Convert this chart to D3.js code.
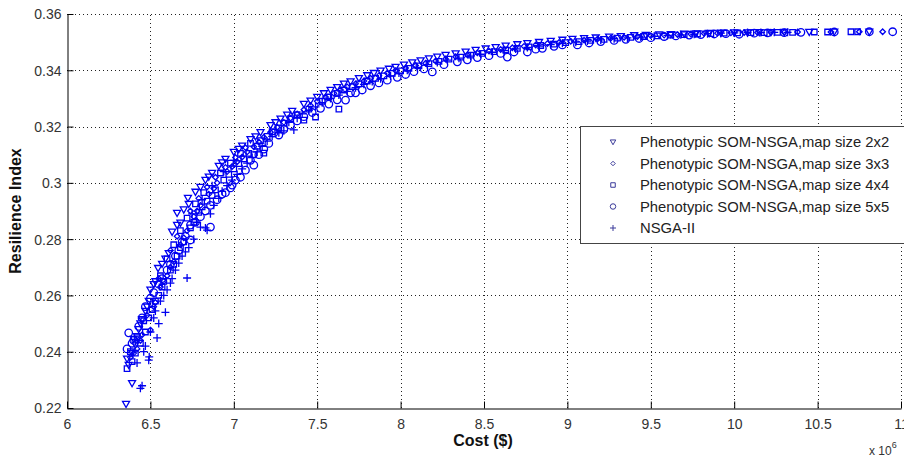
<!DOCTYPE html>
<html>
<head>
<meta charset="utf-8">
<script src="https://cdn.jsdelivr.net/npm/d3@7.9.0/dist/d3.min.js"></script>
<style>
  body { margin: 0; background: #fff; }
  svg { display: block; font-family: Arial, "Liberation Sans", sans-serif; }
</style>
</head>
<body>
<div id="chart"></div>
<script>
// cost in millions of $, resilience index
const som2x2 = [[6.354,0.2214],[6.39,0.2288],[6.37,0.2353],[6.36,0.2375],[6.39,0.2395],[6.41,0.2425],[6.40,0.2445],[6.43,0.2480],[6.45,0.2515],[6.47,0.2545],[6.49,0.2580],[6.50,0.2620],[6.52,0.2640],[6.546,0.2697],[6.57,0.2712],[6.61,0.2750],[6.63,0.2826],[6.66,0.2850],[6.68,0.2858],[6.66,0.2893],[6.70,0.2905],[6.725,0.2946],[6.77,0.2968],[6.80,0.2985],[6.83,0.3010],[6.87,0.3035],[6.91,0.3060],[6.95,0.3085],[7.00,0.3110],[7.05,0.3132],[7.10,0.3155],[7.16,0.3180],[7.22,0.3205],[7.28,0.3228],[7.35,0.3255],[7.42,0.3280],[7.50,0.3305],[7.58,0.3330],[7.66,0.3352],[7.75,0.3372],[7.84,0.3390],[7.93,0.3405],[8.02,0.3420],[8.12,0.3435],[8.22,0.3448],[8.33,0.3460],[8.45,0.3472],[8.57,0.3482],[8.70,0.3492],[8.83,0.3500],[8.97,0.3508],[9.10,0.3514],[9.25,0.3519],[9.40,0.3524],[9.55,0.3527],[9.70,0.3530],[9.85,0.3532],[10.00,0.3534],[10.15,0.3535],[10.30,0.3536],[10.45,0.3536],[10.60,0.3537],[10.81,0.3537],
  [7.03,0.3120],[7.13,0.3165],[7.25,0.3215],[7.32,0.3242],[7.46,0.3292],[7.54,0.3318],[7.62,0.3340],[7.70,0.3360],[7.80,0.3382],[7.88,0.3398],[7.97,0.3412],[8.07,0.3428],[8.17,0.3442],[8.27,0.3454],[8.39,0.3466],[8.51,0.3477],[8.63,0.3487],[8.76,0.3496],[8.90,0.3504],[9.03,0.3511],[9.17,0.3516],[9.32,0.3521],[9.47,0.3525],[9.62,0.3528],[9.77,0.3531],[9.92,0.3533],[10.08,0.3534],[10.22,0.3535],[6.42,0.2455],[6.44,0.2500],[6.48,0.2560],[6.53,0.2650],[6.59,0.2730],[6.73,0.2925],[6.85,0.3022],[6.93,0.3072]];

const som3x3 = [[6.38,0.2380],[6.42,0.2410],[6.45,0.2460],[6.50,0.2477],[6.48,0.2530],[6.53,0.2575],[6.56,0.2630],[6.60,0.2670],[6.64,0.2720],[6.68,0.2780],[6.72,0.2830],[6.76,0.2880],[6.80,0.2920],[6.85,0.2960],[6.90,0.3000],[6.96,0.3040],[7.02,0.3075],[7.08,0.3110],[7.15,0.3145],[7.22,0.3180],[7.30,0.3215],[7.38,0.3245],[7.46,0.3275],[7.55,0.3305],[7.64,0.3330],[7.73,0.3352],[7.82,0.3372],[7.92,0.3390],[8.03,0.3408],[8.15,0.3425],[8.27,0.3440],[8.40,0.3455],[8.53,0.3468],[8.67,0.3480],[8.81,0.3490],[8.95,0.3499],[9.10,0.3507],[9.26,0.3514],[9.42,0.3520],[9.58,0.3525],[9.74,0.3529],[9.90,0.3532],[10.06,0.3534],[10.22,0.3535],[10.38,0.3536],[10.58,0.3536],[10.75,0.3537],[10.89,0.3537],
  [6.40,0.2395],[6.44,0.2440],[6.52,0.2560],[6.58,0.2650],[6.62,0.2700],[6.70,0.2805],[6.78,0.2900],[6.88,0.2980],[6.99,0.3058],[7.05,0.3092],[7.12,0.3128],[7.18,0.3162],[7.26,0.3198],[7.34,0.3230],[7.42,0.3260],[7.50,0.3290],[7.60,0.3318],[7.68,0.3341],[7.78,0.3362],[7.87,0.3381],[7.97,0.3399],[8.09,0.3417],[8.21,0.3433],[8.33,0.3448],[8.46,0.3462],[8.60,0.3474],[8.74,0.3485],[8.88,0.3495],[9.02,0.3503],[9.18,0.3511],[9.34,0.3517],[9.50,0.3523],[9.66,0.3527],[9.82,0.3531],[9.98,0.3533],[10.14,0.3534],[10.30,0.3535],
  [6.74,0.2900],[6.79,0.2945],[6.84,0.2985],[6.89,0.3020],[6.95,0.3055],[7.01,0.3090],[7.07,0.3125],[6.55,0.2660],[6.62,0.2760],[6.66,0.2810]];

const som4x4 = [[6.36,0.2340],[6.39,0.2365],[6.41,0.2395],[6.44,0.2430],[6.47,0.2470],[6.46,0.2510],[6.51,0.2550],[6.55,0.2600],[6.58,0.2650],[6.62,0.2690],[6.66,0.2740],[6.70,0.2790],[6.74,0.2840],[6.79,0.2895],[6.84,0.2935],[6.89,0.2975],[6.94,0.3010],[7.00,0.3050],[7.06,0.3085],[7.12,0.3100],[7.18,0.3106],[7.14,0.3130],[7.20,0.3165],[7.27,0.3195],[7.34,0.3228],[7.42,0.3223],[7.49,0.3234],[7.45,0.3262],[7.53,0.3290],[7.63,0.3262],[7.62,0.3318],[7.71,0.3342],[7.80,0.3362],[7.90,0.3380],[8.00,0.3398],[8.11,0.3416],[8.23,0.3432],[8.36,0.3447],[8.49,0.3460],[8.63,0.3472],[8.77,0.3483],[8.92,0.3493],[9.07,0.3502],[9.22,0.3510],[9.38,0.3517],[9.54,0.3522],[9.70,0.3527],[9.86,0.3530],[10.02,0.3533],[10.18,0.3534],[10.35,0.3535],[10.48,0.3536],[10.56,0.3536],[10.70,0.3537],[10.74,0.3537],
  [6.38,0.2400],[6.42,0.2450],[6.49,0.2520],[6.53,0.2580],[6.57,0.2630],[6.64,0.2710],[6.68,0.2770],[6.76,0.2860],[6.81,0.2915],[6.87,0.2955],[6.97,0.3030],[7.03,0.3068],[7.09,0.3105],[7.16,0.3150],[7.23,0.3182],[7.30,0.3212],[7.38,0.3242],[7.57,0.3305],[7.66,0.3330],[7.75,0.3352],[7.85,0.3371],[7.95,0.3389],[8.05,0.3407],[8.17,0.3424],[8.29,0.3440],[8.42,0.3454],[8.56,0.3466],[8.70,0.3478],[8.84,0.3488],[8.99,0.3498],[9.14,0.3506],[9.30,0.3514],[9.46,0.3520],[9.62,0.3525],[9.78,0.3529],[9.94,0.3532],[10.10,0.3534],[10.26,0.3535],
  [6.72,0.2875],[6.77,0.2925],[6.82,0.2965],[6.92,0.3035],[6.98,0.3070],[7.04,0.3105],[7.10,0.3140],[6.56,0.2670],[6.60,0.2730],[6.64,0.2780],[6.68,0.2830]];

const som5x5 = [[6.37,0.2467],[6.36,0.2410],[6.40,0.2440],[6.43,0.2490],[6.47,0.2560],[6.52,0.2610],[6.57,0.2660],[6.62,0.2710],[6.67,0.2760],[6.74,0.2797],[6.71,0.2810],[6.74,0.2850],[6.86,0.2843],[6.80,0.2880],[6.90,0.2940],[6.86,0.2920],[6.95,0.2965],[6.98,0.2982],[6.99,0.2992],[7.04,0.3020],[7.12,0.3063],[7.10,0.3080],[7.18,0.3120],[7.24,0.3177],[7.30,0.3190],[7.38,0.3220],[7.47,0.3250],[7.57,0.3280],[7.67,0.3294],[7.77,0.3330],[7.70,0.3320],[7.87,0.3355],[7.98,0.3375],[8.08,0.3395],[8.19,0.3394],[8.34,0.3430],[8.46,0.3445],[8.64,0.3447],[8.76,0.3465],[8.60,0.3460],[8.85,0.3478],[8.97,0.3490],[9.06,0.3490],[9.20,0.3502],[9.35,0.3510],[9.50,0.3516],[9.65,0.3522],[9.80,0.3527],[9.95,0.3530],[10.03,0.3528],[10.20,0.3533],[10.40,0.3535],[10.60,0.3536],[10.81,0.3537],[10.95,0.3537],
  [6.39,0.2430],[6.45,0.2520],[6.50,0.2590],[6.55,0.2640],[6.60,0.2690],[6.65,0.2740],[6.69,0.2790],[6.77,0.2860],[6.83,0.2900],[6.93,0.2960],[7.01,0.3010],[7.07,0.3045],[7.15,0.3100],[7.21,0.3140],[7.27,0.3170],[7.34,0.3205],[7.42,0.3235],[7.52,0.3265],[7.62,0.3295],[7.73,0.3320],[7.82,0.3345],[7.92,0.3365],[8.03,0.3385],[8.14,0.3405],[8.26,0.3420],[8.40,0.3437],[8.53,0.3452],[8.68,0.3465],[8.81,0.3475],[8.92,0.3485],[9.13,0.3497],[9.28,0.3506],[9.43,0.3513],[9.58,0.3520],[9.73,0.3525],[9.88,0.3529],[10.12,0.3532],[10.30,0.3534]];

const nsga2 = [[6.44,0.2270],[6.45,0.2279],[6.49,0.2370],[6.493,0.2382],[6.42,0.2360],[6.46,0.2400],[6.54,0.2449],[6.55,0.2500],[6.59,0.2540],[6.52,0.2520],[6.56,0.2580],[6.62,0.2644],[6.72,0.2662],[6.60,0.2620],[6.65,0.2690],[6.69,0.2740],[6.73,0.2770],[6.80,0.2843],[6.83,0.2840],[6.84,0.2832],[6.78,0.2860],[6.88,0.2920],[6.93,0.2970],[6.99,0.3010],[7.05,0.3050],[7.11,0.3090],[7.17,0.3130],[7.23,0.3165],[7.30,0.3185],[7.36,0.3188],[7.33,0.3215],[7.41,0.3245],[7.49,0.3270],[7.58,0.3300],[7.68,0.3325],[7.78,0.3350],[7.88,0.3370],[7.99,0.3390],[8.10,0.3410],[8.22,0.3428],[8.35,0.3443],[8.48,0.3457],[8.62,0.3470],[8.76,0.3481],[8.90,0.3491],[9.05,0.3500],[9.20,0.3508],[9.36,0.3515],[9.52,0.3521],[9.68,0.3526],[9.84,0.3530],[10.00,0.3533],[10.16,0.3534],[10.32,0.3535],
  [6.47,0.2420],[6.50,0.2470],[6.53,0.2545],[6.58,0.2600],[6.63,0.2660],[6.67,0.2715],[6.71,0.2755],[6.76,0.2800],[6.86,0.2890],[6.91,0.2945],[6.96,0.2990],[7.02,0.3030],[7.08,0.3070],[7.14,0.3110],[7.20,0.3148],[7.27,0.3178],[7.38,0.3230],[7.45,0.3258],[7.53,0.3285],[7.63,0.3312],[7.73,0.3338],[7.83,0.3360],[7.94,0.3380],[8.04,0.3400],[8.16,0.3420],[8.28,0.3436],[8.42,0.3450],[8.55,0.3464],[8.69,0.3476],[8.83,0.3486],[8.97,0.3496],[9.12,0.3504],[9.28,0.3512],[9.44,0.3518],[9.60,0.3524],[9.76,0.3528],[9.92,0.3532],[10.08,0.3534],[10.24,0.3535],
  [6.75,0.2890],[6.81,0.2940],[6.87,0.2990],[6.94,0.3040],[7.00,0.3080]];

const seriesNames = [
  'Phenotypic SOM-NSGA,map size 2x2',
  'Phenotypic SOM-NSGA,map size 3x3',
  'Phenotypic SOM-NSGA,map size 4x4',
  'Phenotypic SOM-NSGA,map size 5x5',
  'NSGA-II'
];
const seriesData = [som2x2, som3x3, som4x4, som5x5, nsga2];
const seriesMarkers = ['triangle', 'diamond', 'square', 'circle', 'plus'];

const xTicks = d3.range(6, 11.01, 0.5);
const yTicks = d3.range(0.22, 0.3601, 0.02);

const blue = '#0000f0';

// marker path centred at 0,0 ; s = nominal size in px
function markerPath(type, s) {
  const h = s / 2;
  switch (type) {
    case 'triangle':
      return `M${-h},${-h * 0.75}L${h},${-h * 0.75}L0,${h}Z`;
    case 'diamond':
      return `M0,${-h}L${h},0L0,${h}L${-h},0Z`;
    case 'square':
      return `M${-h},${-h}H${h}V${h}H${-h}Z`;
    case 'circle':
      return `M${h},0A${h},${h} 0 1,1 ${-h},0A${h},${h} 0 1,1 ${h},0Z`;
    case 'plus':
      return `M${-h},0H${h}M0,${-h}V${h}`;
  }
}
const plotSize = { triangle: 7, diamond: 5.5, square: 5.5, circle: 7.5, plus: 8 };
const legendSize = { triangle: 5.5, diamond: 4.5, square: 4.5, circle: 5.5, plus: 6 };

function renderChart() {
  const width = 904;
  const height = 459;
  const plot = { left: 67, right: 901, top: 14, bottom: 408 };

  const svg = d3.select('#chart')
    .append('svg')
    .attr('width', width)
    .attr('height', height);

  const xScale = d3.scaleLinear().domain([6, 11]).range([plot.left, plot.right]);
  const yScale = d3.scaleLinear().domain([0.22, 0.36]).range([plot.bottom, plot.top]);

  // dotted grid
  const grid = svg.append('g').attr('class', 'grid')
    .attr('stroke', '#222').attr('stroke-width', 1).attr('stroke-dasharray', '1,3');
  grid.selectAll('line.v')
    .data(xTicks.slice(1))
    .join('line')
    .attr('class', 'v')
    .attr('x1', d => Math.round(xScale(d)) + 0.5)
    .attr('x2', d => Math.round(xScale(d)) + 0.5)
    .attr('y1', plot.bottom)
    .attr('y2', plot.top);
  grid.selectAll('line.h')
    .data(yTicks.slice(1))
    .join('line')
    .attr('class', 'h')
    .attr('y1', d => Math.round(yScale(d)) + 0.5)
    .attr('y2', d => Math.round(yScale(d)) + 0.5)
    .attr('x1', plot.left)
    .attr('x2', plot.right);

  // axes, ticks pointing inward
  const xAxis = d3.axisBottom(xScale)
    .tickValues(xTicks)
    .tickFormat(d => (+d.toFixed(1)).toString())
    .tickSizeInner(-7).tickSizeOuter(0).tickPadding(12);
  const yAxis = d3.axisLeft(yScale)
    .tickValues(yTicks)
    .tickFormat(d => (+d.toFixed(2)).toString())
    .tickSizeInner(-6).tickSizeOuter(0).tickPadding(6);

  const gx = svg.append('g')
    .attr('transform', `translate(0,${plot.bottom + 0.5})`)
    .call(xAxis);
  const gy = svg.append('g')
    .attr('transform', `translate(${plot.left + 0.5},0)`)
    .call(yAxis);

  [gx, gy].forEach(g => {
    g.select('.domain').attr('stroke', '#000');
    g.selectAll('.tick line').attr('stroke', '#000');
    g.selectAll('.tick text')
      .attr('fill', '#333')
      .style('font-size', '14px')
      .style('font-family', 'Arial, "Liberation Sans", sans-serif');
  });
  gx.selectAll('.tick text').attr('dy', '0.6em');
  gy.selectAll('.tick text').attr('dy', '0.35em');

  // markers
  seriesData.forEach((pts, i) => {
    const type = seriesMarkers[i];
    svg.append('g')
      .attr('class', 'series-' + i)
      .selectAll('path')
      .data(pts)
      .join('path')
      .attr('transform', d => `translate(${xScale(d[0])},${yScale(d[1])})`)
      .attr('d', markerPath(type, plotSize[type]))
      .attr('fill', 'none')
      .attr('stroke', blue)
      .attr('stroke-width', 1.3);
  });

  // axis labels
  svg.append('text')
    .attr('x', 483)
    .attr('y', 446)
    .attr('text-anchor', 'middle')
    .style('font-size', '16px')
    .style('font-weight', 'bold')
    .attr('fill', '#111')
    .text('Cost ($)');

  svg.append('text')
    .attr('transform', `translate(21,${(plot.top + plot.bottom) / 2}) rotate(-90)`)
    .attr('text-anchor', 'middle')
    .style('font-size', '16px')
    .style('font-weight', 'bold')
    .attr('fill', '#111')
    .text('Resilience Index');

  const exp = svg.append('text')
    .attr('x', 869)
    .attr('y', 455)
    .style('font-size', '12px')
    .attr('fill', '#333');
  exp.append('tspan').text('x 10');
  exp.append('tspan').attr('dy', -7).style('font-size', '9px').text('6');

  // legend
  const legend = svg.append('g').attr('class', 'legend');
  legend.append('rect')
    .attr('x', 580.5)
    .attr('y', 126.5)
    .attr('width', 330)
    .attr('height', 117)
    .attr('fill', '#fff')
    .attr('stroke', '#444');

  const rows = legend.selectAll('g.row')
    .data(seriesNames)
    .join('g')
    .attr('class', 'row')
    .attr('transform', (d, i) => `translate(0,${142 + i * 21.5})`);

  rows.append('path')
    .attr('transform', 'translate(613,0)')
    .attr('d', (d, i) => markerPath(seriesMarkers[i], legendSize[seriesMarkers[i]]))
    .attr('fill', 'none')
    .attr('stroke', '#3a3a9a')
    .attr('stroke-width', 1);

  rows.append('text')
    .attr('x', 640)
    .attr('y', 0)
    .attr('dy', '0.35em')
    .style('font-size', '14.8px')
    .attr('fill', '#222')
    .text(d => d);
}

renderChart();
</script>
</body>
</html>
